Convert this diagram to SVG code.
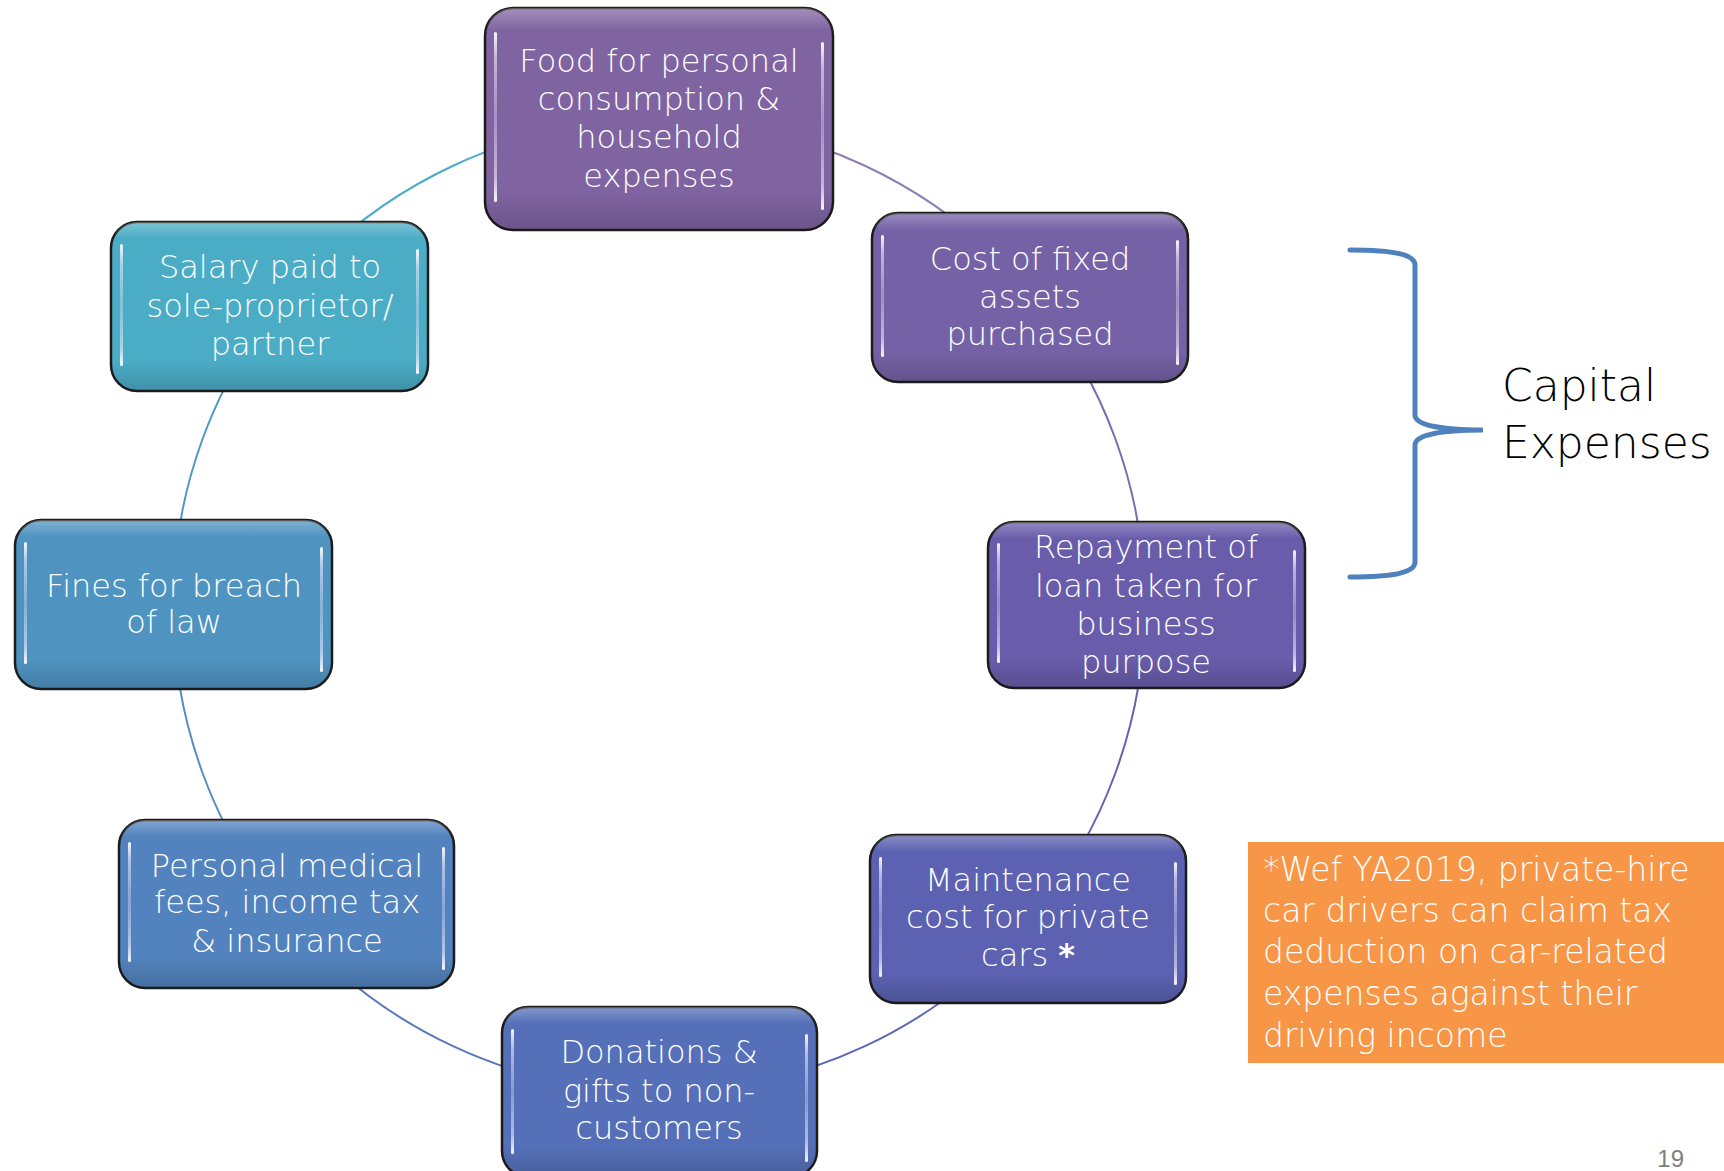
<svg xmlns="http://www.w3.org/2000/svg" width="1724" height="1171" viewBox="0 0 1724 1171">
<defs>
<linearGradient id="gloss" x1="0" y1="0" x2="0" y2="1">
<stop offset="0" stop-color="#fff" stop-opacity="0.28"/>
<stop offset="0.1" stop-color="#fff" stop-opacity="0"/>
<stop offset="0.82" stop-color="#000" stop-opacity="0"/>
<stop offset="1" stop-color="#000" stop-opacity="0.16"/>
</linearGradient>
<linearGradient id="hlg" x1="0" y1="0" x2="0" y2="1">
<stop offset="0" stop-color="#fff" stop-opacity="0.95"/>
<stop offset="0.15" stop-color="#f0ecff" stop-opacity="0.6"/>
<stop offset="0.5" stop-color="#e8e4ff" stop-opacity="0.35"/>
<stop offset="0.85" stop-color="#f0ecff" stop-opacity="0.6"/>
<stop offset="1" stop-color="#fff" stop-opacity="0.95"/>
</linearGradient>
<style>
.box{stroke:#1c1c1c;stroke-width:2.5}
.gl{fill:url(#gloss)}
.hl{fill:url(#hlg)}
.lbl{font-family:"DejaVu Sans","Liberation Sans",sans-serif;font-weight:200;font-size:32px;fill:#ffffff;text-anchor:middle}
.arc{fill:none;stroke-width:2}
.note{font-family:"DejaVu Sans","Liberation Sans",sans-serif;font-weight:200;font-size:33px;fill:#ffffff}
.cap{font-family:"DejaVu Sans","Liberation Sans",sans-serif;font-weight:200;font-size:44px;fill:#000000}
</style>
</defs>
<rect width="1724" height="1171" fill="#ffffff"/>
<g id="connectors">
<path class="arc" stroke="#8E80B3" d="M659,120 A486,486 0 0 1 1031.3,293.5"/>
<path class="arc" stroke="#7B6DAE" d="M1031.3,293.5 A486,486 0 0 1 1145,606"/>
<path class="arc" stroke="#6762B0" d="M1145,606 A486,486 0 0 1 1031.3,918.4"/>
<path class="arc" stroke="#5C67B5" d="M1031.3,918.4 A486,486 0 0 1 659,1092"/>
<path class="arc" stroke="#5A78BA" d="M659,1092 A486,486 0 0 1 286.7,918.4"/>
<path class="arc" stroke="#5A8CC0" d="M286.7,918.4 A486,486 0 0 1 173,606"/>
<path class="arc" stroke="#4E99C4" d="M173,606 A486,486 0 0 1 286.7,293.5"/>
<path class="arc" stroke="#4BACC6" d="M286.7,293.5 A486,486 0 0 1 659,120"/>
</g>
<g id="node-food">
<rect class="box" x="485" y="8" width="348" height="222" rx="28" fill="#8064A2"/>
<rect class="gl" x="485" y="8" width="348" height="222" rx="28"/>
<rect class="hl" x="494" y="32" width="3" height="170" rx="1.5"/>
<rect class="hl" x="821" y="42" width="3" height="168" rx="1.5"/>
<text class="lbl" x="659" y="72">Food for personal</text>
<text class="lbl" x="659" y="110">consumption &amp;</text>
<text class="lbl" x="659" y="148">household</text>
<text class="lbl" x="659" y="187">expenses</text>
</g>
<g id="node-cost">
<rect class="box" x="872" y="213" width="316" height="169" rx="26" fill="#7562A6"/>
<rect class="gl" x="872" y="213" width="316" height="169" rx="26"/>
<rect class="hl" x="881" y="235" width="3" height="122" rx="1.5"/>
<rect class="hl" x="1176" y="240" width="3" height="125" rx="1.5"/>
<text class="lbl" x="1030" y="270">Cost of fixed</text>
<text class="lbl" x="1030" y="308">assets</text>
<text class="lbl" x="1030" y="345">purchased</text>
</g>
<g id="node-repayment">
<rect class="box" x="988" y="522" width="317" height="166" rx="26" fill="#695DAB"/>
<rect class="gl" x="988" y="522" width="317" height="166" rx="26"/>
<rect class="hl" x="997" y="543" width="3" height="120" rx="1.5"/>
<rect class="hl" x="1293" y="550" width="3" height="122" rx="1.5"/>
<text class="lbl" x="1146" y="558">Repayment of</text>
<text class="lbl" x="1146" y="597">loan taken for</text>
<text class="lbl" x="1146" y="635">business</text>
<text class="lbl" x="1146" y="673">purpose</text>
</g>
<g id="node-maintenance">
<rect class="box" x="870" y="835" width="316" height="168" rx="26" fill="#5C62B1"/>
<rect class="gl" x="870" y="835" width="316" height="168" rx="26"/>
<rect class="hl" x="879" y="857" width="3" height="120" rx="1.5"/>
<rect class="hl" x="1174" y="862" width="3" height="123" rx="1.5"/>
<text class="lbl" x="1028" y="891">Maintenance</text>
<text class="lbl" x="1028" y="928">cost for private</text>
<text class="lbl" x="1028" y="966">cars <tspan font-weight="bold">*</tspan></text>
</g>
<g id="node-donations">
<rect class="box" x="502" y="1007" width="315" height="170" rx="26" fill="#5570B8"/>
<rect class="gl" x="502" y="1007" width="315" height="170" rx="26"/>
<rect class="hl" x="511" y="1029" width="3" height="125" rx="1.5"/>
<rect class="hl" x="805" y="1034" width="3" height="128" rx="1.5"/>
<text class="lbl" x="659" y="1063">Donations &amp;</text>
<text class="lbl" x="659" y="1102">gifts to non-</text>
<text class="lbl" x="659" y="1139">customers</text>
</g>
<g id="node-personal">
<rect class="box" x="119" y="820" width="335" height="168" rx="26" fill="#5283BE"/>
<rect class="gl" x="119" y="820" width="335" height="168" rx="26"/>
<rect class="hl" x="128" y="842" width="3" height="120" rx="1.5"/>
<rect class="hl" x="442" y="847" width="3" height="123" rx="1.5"/>
<text class="lbl" x="287" y="877">Personal medical</text>
<text class="lbl" x="287" y="913">fees, income tax</text>
<text class="lbl" x="287" y="952">&amp; insurance</text>
</g>
<g id="node-fines">
<rect class="box" x="15" y="520" width="317" height="169" rx="26" fill="#4F94C1"/>
<rect class="gl" x="15" y="520" width="317" height="169" rx="26"/>
<rect class="hl" x="24" y="542" width="3" height="122" rx="1.5"/>
<rect class="hl" x="320" y="547" width="3" height="125" rx="1.5"/>
<text class="lbl" x="174" y="597">Fines for breach</text>
<text class="lbl" x="174" y="633">of law</text>
</g>
<g id="node-salary">
<rect class="box" x="111" y="222" width="317" height="169" rx="26" fill="#4BACC6"/>
<rect class="gl" x="111" y="222" width="317" height="169" rx="26"/>
<rect class="hl" x="120" y="244" width="3" height="122" rx="1.5"/>
<rect class="hl" x="416" y="249" width="3" height="125" rx="1.5"/>
<text class="lbl" x="270" y="278">Salary paid to</text>
<text class="lbl" x="270" y="317">sole-proprietor/</text>
<text class="lbl" x="270" y="355">partner</text>
</g>
<g id="capital-bracket">
<path d="M1350,250 C1395,250 1415,255 1415,265 L1415,415 C1415,425 1440,430 1483,430 C1440,430 1415,435 1415,445 L1415,562 C1415,572 1395,577 1350,577" fill="none" stroke="#4F81BD" stroke-width="5" stroke-linecap="round"/>
<text class="cap" x="1502" y="401">Capital</text>
<text class="cap" x="1502" y="458">Expenses</text>
</g>
<g id="note">
<rect x="1248" y="842" width="476" height="221" fill="#F79646"/>
<text class="note" x="1263" y="881">*Wef YA2019, private-hire</text>
<text class="note" x="1263" y="922">car drivers can claim tax</text>
<text class="note" x="1263" y="963">deduction on car-related</text>
<text class="note" x="1263" y="1005">expenses against their</text>
<text class="note" x="1263" y="1047">driving income</text>
</g>
<text x="1684" y="1167" font-family="Liberation Sans, sans-serif" font-size="24" fill="#7f7f7f" text-anchor="end">19</text>
</svg>
